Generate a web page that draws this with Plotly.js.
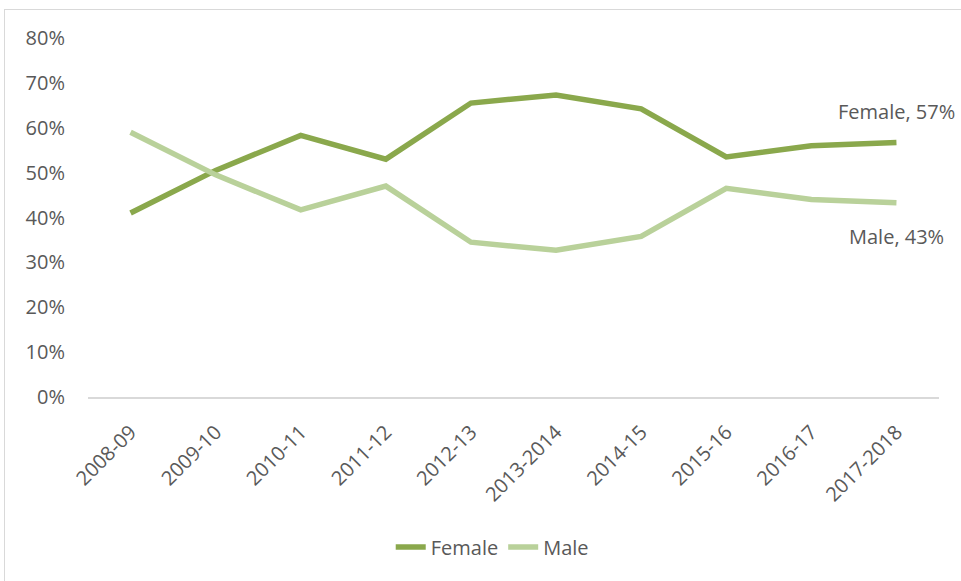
<!DOCTYPE html>
<html>
<head>
<meta charset="utf-8">
<script src="https://cdn.plot.ly/plotly-3.0.1.min.js"></script>
<style>
  html, body { margin: 0; padding: 0; background: #ffffff; }
  #wrap { position: relative; width: 961px; height: 581px; overflow: hidden; }
  #chart { width: 961px; height: 581px; }
  #frame { position: absolute; left: 4px; top: 9px; width: 1200px; height: 900px;
           border-left: 1px solid #d9d9d9; border-top: 1px solid #d9d9d9; pointer-events: none; }
</style>
</head>
<body>
<div id="wrap">
  <div id="chart"></div>
  <div id="frame"></div>
</div>
<script>
const categories = ["2008-09", "2009-10", "2010-11", "2011-12", "2012-13", "2013-2014", "2014-15", "2015-16", "2016-17", "2017-2018"];
const female = [0.41, 0.505, 0.583, 0.53, 0.655, 0.673, 0.642, 0.535, 0.56, 0.567];
const male = [0.59, 0.495, 0.417, 0.47, 0.345, 0.327, 0.358, 0.465, 0.44, 0.433];
const yTicks = [0, 0.1, 0.2, 0.3, 0.4, 0.5, 0.6, 0.7, 0.8];

const femaleColor = "#8aa84c";
const maleColor = "#b9d19a";
const textColor = "#595959";
const fontFamily = "'Open Sans', 'Noto Sans', sans-serif";
const fs = 20;

const traces = [
  { x: categories, y: female, name: "Female", type: "scatter", mode: "lines",
    line: { color: femaleColor, width: 5.5 }, hoverinfo: "skip" },
  { x: categories, y: male, name: "Male", type: "scatter", mode: "lines",
    line: { color: maleColor, width: 5.5 }, hoverinfo: "skip" }
];

const last = categories.length - 1;
const layout = {
  width: 961, height: 581,
  margin: { l: 88, r: 22, t: 38, b: 184 },
  paper_bgcolor: "rgba(0,0,0,0)",
  plot_bgcolor: "rgba(0,0,0,0)",
  font: { family: fontFamily, size: fs, color: textColor },
  showlegend: true,
  legend: { orientation: "h", x: 0.475, xanchor: "center", y: -0.418, yanchor: "middle",
            font: { family: fontFamily, size: fs, color: textColor }, itemwidth: 30, tracegroupgap: 0 },
  xaxis: { type: "category", tickangle: -45, showgrid: false, zeroline: false,
           showline: true, linecolor: "#d9d9d9", linewidth: 1.5, ticks: "",
           ticklabelstandoff: 14, tickfont: { family: fontFamily, size: fs, color: textColor },
           range: [-0.5, categories.length - 0.5] },
  yaxis: { range: [0, 0.8], tickvals: yTicks, tickformat: ".0%", showgrid: false,
           zeroline: false, showline: false, ticks: "", ticklabelstandoff: 22,
           tickfont: { family: fontFamily, size: fs, color: textColor } },
  annotations: [
    { x: categories[last], y: female[last], xref: "x", yref: "y",
      text: "Female, " + Math.round(female[last] * 100) + "%", showarrow: false,
      yshift: 31, font: { family: fontFamily, size: fs, color: textColor } },
    { x: categories[last], y: male[last], xref: "x", yref: "y",
      text: "Male, " + Math.round(male[last] * 100) + "%", showarrow: false,
      yshift: -34, font: { family: fontFamily, size: fs, color: textColor } }
  ]
};

Plotly.newPlot("chart", traces, layout, { staticPlot: true, displayModeBar: false });
</script>
</body>
</html>
